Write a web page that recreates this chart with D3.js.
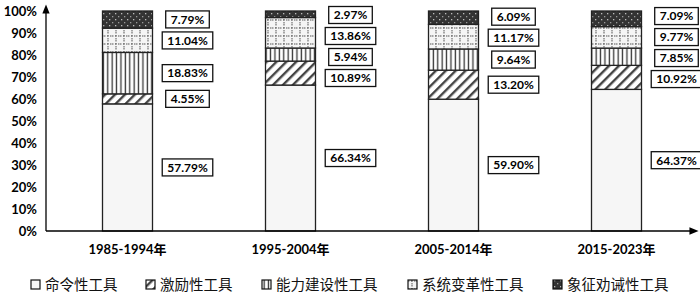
<!DOCTYPE html>
<html>
<head>
<meta charset="utf-8">
<script src="https://cdnjs.cloudflare.com/ajax/libs/d3/7.8.5/d3.min.js"></script>
<style>
body{margin:0;background:#fff}
svg{display:block}
</style>
</head>
<body>
<svg id="chart" width="700" height="298"></svg>
<script>
// ===== DATA =====
const periods = ["1985-1994年","1995-2004年","2005-2014年","2015-2023年"]
const seriesNames = ["命令性工具","激励性工具","能力建设性工具","系统变革性工具","象征劝诫性工具"]
const mandate    = [57.79, 66.34, 59.90, 64.37]
const incentive  = [4.55, 10.89, 13.20, 10.92]
const capacity   = [18.83, 5.94, 9.64, 7.85]
const systemic   = [11.04, 13.86, 11.17, 9.77]
const symbolic   = [7.79, 2.97, 6.09, 7.09]
const yTicks = [0,10,20,30,40,50,60,70,80,90,100]

const seriesValues = [mandate, incentive, capacity, systemic, symbolic]
const patternIds = ["pMandate","pIncentive","pCapacity","pSystemic","pSymbolic"]

const svg = d3.select("#chart")
const numFont = "Lato, 'Open Sans', sans-serif"
const cjkFont = "'Noto Sans CJK SC', sans-serif"

// ===== PATTERNS =====
const defs = svg.append("defs")

let p = defs.append("pattern").attr("id","pMandate").attr("patternUnits","userSpaceOnUse")
.attr("width",4).attr("height",4)
p.append("rect").attr("width",4).attr("height",4).attr("fill","#f6f6f6")

p = defs.append("pattern").attr("id","pIncentive").attr("patternUnits","userSpaceOnUse")
.attr("width",7).attr("height",7).attr("patternTransform","rotate(45)")
p.append("rect").attr("width",7).attr("height",7).attr("fill","#fff")
p.append("rect").attr("width",2.4).attr("height",7).attr("fill","#444")

p = defs.append("pattern").attr("id","pCapacity").attr("patternUnits","userSpaceOnUse")
.attr("width",4.4).attr("height",4)
p.append("rect").attr("width",4.4).attr("height",4).attr("fill","#fff")
p.append("rect").attr("x",1.5).attr("width",1.3).attr("height",4).attr("fill","#333")

p = defs.append("pattern").attr("id","pSystemic").attr("patternUnits","userSpaceOnUse")
.attr("width",8).attr("height",8)
p.append("rect").attr("width",8).attr("height",8).attr("fill","#f5f5f5")
p.append("line").attr("x1",0).attr("x2",8).attr("y1",4).attr("y2",4)
.attr("stroke","#555").attr("stroke-width",1).attr("stroke-dasharray","1.5,1.5")
p.append("line").attr("x1",4).attr("x2",4).attr("y1",0).attr("y2",8)
.attr("stroke","#555").attr("stroke-width",1).attr("stroke-dasharray","1.5,1.5")

p = defs.append("pattern").attr("id","pSymbolic").attr("patternUnits","userSpaceOnUse")
.attr("width",6).attr("height",6)
p.append("rect").attr("width",6).attr("height",6).attr("fill","#333")
p.append("rect").attr("x",1).attr("y",1).attr("width",1.3).attr("height",1.3).attr("fill","#bbb")
p.append("rect").attr("x",4).attr("y",4).attr("width",1.3).attr("height",1.3).attr("fill","#999")

defs.append("marker").attr("id","arrow").attr("viewBox","0 0 10 10")
.attr("refX",5).attr("refY",5).attr("markerWidth",7).attr("markerHeight",7)
.attr("orient","auto")
.append("path").attr("d","M0,1 L10,5 L0,9 Z").attr("fill","#000")

// ===== SCALES =====
const x = d3.scaleBand().domain(periods).range([46,698]).paddingInner(0).paddingOuter(0)
const y = d3.scaleLinear().domain([0,100]).range([231,11])
const barW = 50

// ===== STACK =====
const rows = periods.map((p,i)=>{
  const r = {period:p}
  seriesNames.forEach((s,k)=>r[s]=seriesValues[k][i])
  return r
})
const stacked = d3.stack().keys(seriesNames)(rows)

const layers = svg.append("g").selectAll("g")
.data(stacked)
.enter().append("g")
.attr("fill",(d,i)=>`url(#${patternIds[i]})`)

layers.selectAll("rect")
.data(d=>d)
.enter().append("rect")
.attr("x",d=>x(d.data.period)+x.bandwidth()/2-barW/2)
.attr("width",barW)
.attr("y",d=>y(d[1]))
.attr("height",d=>y(d[0])-y(d[1]))
.attr("stroke","#222")
.attr("stroke-width",1.3)

// ===== AXES =====
svg.append("line").attr("x1",46).attr("x2",46).attr("y1",231).attr("y2",9)
.attr("stroke","#000").attr("stroke-width",1.3).attr("marker-end","url(#arrow)")
svg.append("line").attr("x1",46).attr("x2",694).attr("y1",231).attr("y2",231)
.attr("stroke","#000").attr("stroke-width",1.3).attr("marker-end","url(#arrow)")

svg.append("g").selectAll("text")
.data(yTicks).enter().append("text")
.attr("x",37).attr("y",d=>y(d)).attr("dy","0.36em")
.attr("text-anchor","end")
.attr("font-family",numFont).attr("font-weight","bold").attr("font-size",13)
.text(d=>d+"%")

svg.append("g").selectAll("text")
.data(periods).enter().append("text")
.attr("x",d=>x(d)+x.bandwidth()/2).attr("y",254)
.attr("text-anchor","middle")
.attr("font-family",numFont+", "+cjkFont).attr("font-weight","bold").attr("font-size",13)
.text(d=>d)

// ===== VALUE LABELS =====
const labelG = svg.append("g")
periods.forEach((per,i)=>{
  // centers, top to bottom
  let items = stacked.map(layer=>({v:layer[i][1]-layer[i][0], c:y((layer[i][0]+layer[i][1])/2)})).reverse()
  const gap = 21
  for(let it=0; it<50; it++){
    for(let k=1;k<items.length;k++){
      const d = items[k].c - items[k-1].c
      if(d<gap){
        const push=(gap-d)/2
        items[k-1].c-=push
        items[k].c+=push
      }
    }
    if(items[0].c<15){
      const s=15-items[0].c
      items[0].c+=s
    }
  }
  const cx = x(per)+x.bandwidth()/2+60
  items.forEach(d=>{
    const g = labelG.append("g")
    const t = g.append("text")
    .attr("x",cx).attr("y",d.c).attr("dy","0.36em")
    .attr("text-anchor","middle")
    .attr("font-family",numFont).attr("font-weight","bold").attr("font-size",12)
    .text(d.v.toFixed(2)+"%")
    const w = t.node().getComputedTextLength()+10
    g.insert("rect","text")
    .attr("x",cx-w/2).attr("y",d.c-8.5).attr("width",w).attr("height",17)
    .attr("fill","#fff").attr("stroke","#111").attr("stroke-width",1.3)
  })
})

// ===== LEGEND =====
const legendX = [31,146,262,408,553]
const legend = svg.append("g").selectAll("g")
.data(seriesNames).enter().append("g")
.attr("transform",(d,i)=>`translate(${legendX[i]},285)`)

legend.append("rect").attr("x",0).attr("y",-5).attr("width",9).attr("height",9)
.attr("fill",(d,i)=>`url(#${patternIds[i]})`).attr("stroke","#111").attr("stroke-width",1.2)

legend.append("text").attr("x",14).attr("y",0).attr("dy","0.35em")
.attr("font-family",cjkFont).attr("font-size",14.5).attr("fill","#111")
.text(d=>d)
</script>
</body>
</html>
